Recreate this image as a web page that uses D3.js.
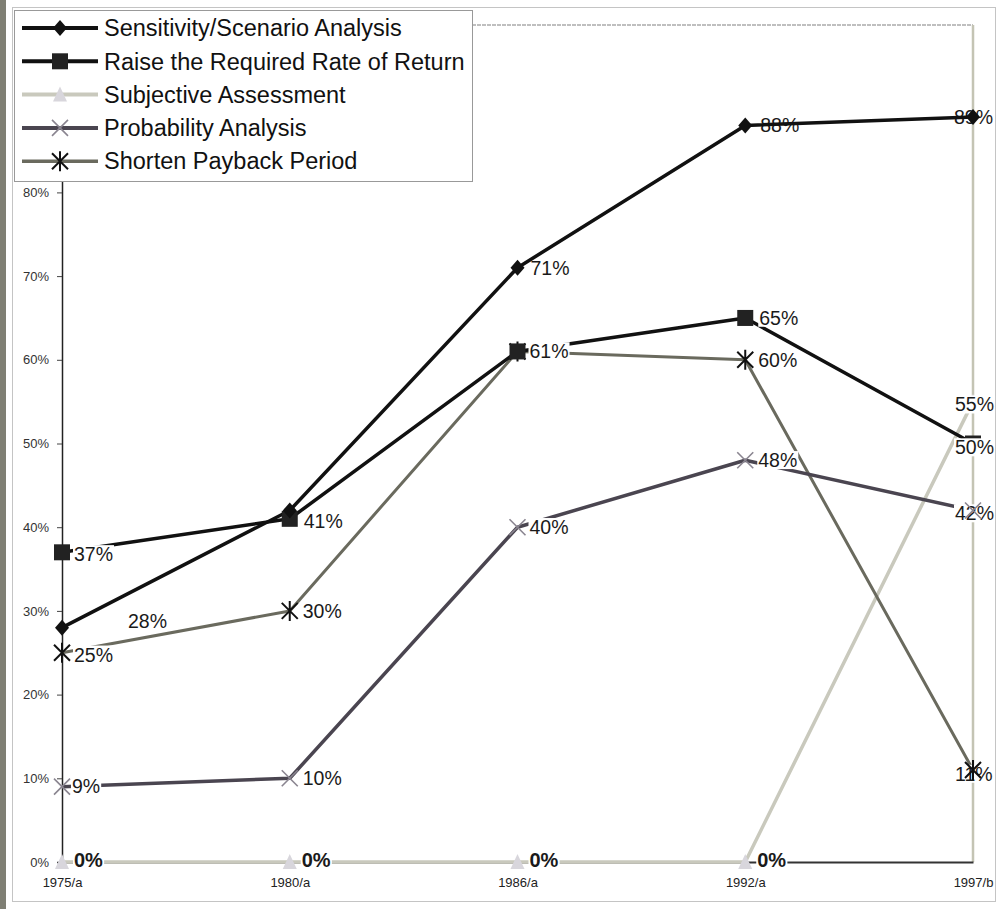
<!DOCTYPE html>
<html><head><meta charset="utf-8">
<script src="https://cdn.jsdelivr.net/npm/d3@7"></script>
<style>body{margin:0;background:#fff;font-family:"Liberation Sans",Arial,sans-serif}</style>
</head><body><svg id="c" width="997" height="909"></svg>
<script>
const categories = ["1975/a","1980/a","1986/a","1992/a","1997/b"];
const seriesNames = ["Sensitivity/Scenario Analysis","Raise the Required Rate of Return","Subjective Assessment","Probability Analysis","Shorten Payback Period"];
const sensitivity = [28, 42, 71, 88, 89];
const raiseRate = [37, 41, 61, 65, 50];
const subjective = [0, 0, 0, 0, 55];
const probability = [9, 10, 40, 48, 42];
const shortenPayback = [25, 30, 61, 60, 11];
const yTicks = [0, 10, 20, 30, 40, 50, 60, 70, 80];

const svg = d3.select("#c");
const FONT = "Liberation Sans, Arial, sans-serif";
// scan stripe + outer frame
svg.append("rect").attr("x",0).attr("y",0).attr("width",6).attr("height",909).attr("fill","#7f7f74");
svg.append("rect").attr("x",12.5).attr("y",7.5).attr("width",983).attr("height",894).attr("fill","none").attr("stroke","#c4c4c4").attr("stroke-width",1);

const x = d3.scalePoint().domain(categories).range([62, 973]);
const y = d3.scaleLinear().domain([0, 100]).range([862, 25]);

// plot border top/right
svg.append("line").attr("x1",62).attr("x2",973).attr("y1",25).attr("y2",25).attr("stroke","#aaa").attr("stroke-width",1.5).attr("stroke-dasharray","4,1");
svg.append("line").attr("x1",973).attr("x2",973).attr("y1",25).attr("y2",862).attr("stroke","#c4c4b4").attr("stroke-width",2.5);

// axes
const yAxis = d3.axisLeft(y).tickValues(yTicks).tickFormat(d => d + "%").tickSize(5).tickPadding(8);
const gy = svg.append("g").attr("transform","translate(62,0)").call(yAxis);
gy.select(".domain").attr("stroke","#222").attr("stroke-width",1.5);
gy.selectAll(".tick line").attr("stroke","#444");
gy.selectAll("text").attr("font-size",13).attr("fill","#333").attr("font-family",FONT);

const xAxis = d3.axisBottom(x).tickSize(0).tickPadding(16);
const gx = svg.append("g").attr("transform","translate(0,862)").call(xAxis);
gx.select(".domain").attr("stroke","#333").attr("stroke-width",2);
gx.selectAll("text").attr("font-size",13).attr("fill","#222").attr("font-family",FONT);

const series = [
  {name: seriesNames[0], values: sensitivity, color:"#111", width:3.5, marker:"diamond", mcolor:"#111"},
  {name: seriesNames[1], values: raiseRate, color:"#111", width:3.5, marker:"square", mcolor:"#222"},
  {name: seriesNames[2], values: subjective, color:"#c9c9bd", width:3.5, marker:"triangle", mcolor:"#d8d6dc"},
  {name: seriesNames[3], values: probability, color:"#4a4550", width:3.5, marker:"x", mcolor:"#8a8590"},
  {name: seriesNames[4], values: shortenPayback, color:"#6a6a5e", width:3, marker:"star", mcolor:"#111"}
];
// label offsets per series per point (dx, dy), null = hidden
const labelOffsets = [
  [[66,-6],null,[13,0],[15,0],[-19,0]],
  [[12,2],[14,2],[12,0],[14,0],[-18,4]],
  [[12,-2],[12,-2],[12,-2],[12,-2],[-18,3]],
  [[10,0],[13,0],[12,0],[13,0],[-18,3]],
  [[12,2],[13,0],null,[13,0],[-18,4]]
];

function marker(g, type, color){
  if(type==="diamond") g.append("path").attr("d","M0,-8L7,0L0,8L-7,0Z").attr("fill",color);
  else if(type==="square") g.append("rect").attr("x",-8).attr("y",-8).attr("width",16).attr("height",16).attr("fill",color);
  else if(type==="triangle") g.append("path").attr("d","M0,-8L7,7L-7,7Z").attr("fill",color);
  else if(type==="x") g.append("path").attr("d","M-8,-8L8,8M-8,8L8,-8").attr("stroke",color).attr("stroke-width",1.6);
  else if(type==="star") g.append("path").attr("d","M-8,-8L8,8M-8,8L8,-8M0,-10L0,10").attr("stroke",color).attr("stroke-width",2);
}

function drawLabel(si, i, withBg){
  const s = series[si], v = s.values[i], o = labelOffsets[si][i];
  if(!o) return;
  const bold = si===2 && i<4;
  const t = svg.append("text").attr("x",x(categories[i])+o[0]).attr("y",y(v)+o[1]).attr("dy","0.35em")
    .attr("font-size", bold ? 20 : 19.5).attr("fill","#1a1a1a").attr("font-family",FONT)
    .attr("font-weight", bold ? "bold" : "normal").text(v + "%");
  if(withBg){
    const b = t.node().getBBox();
    svg.insert("rect", () => t.node()).attr("x",b.x-1).attr("y",b.y+2).attr("width",b.width+2).attr("height",b.height-4).attr("fill","#fff");
  }
}

const line = d3.line().x((d,i)=>x(categories[i])).y(d=>y(d));
// sensitivity labels sit under the lines
sensitivity.forEach((v,i)=>drawLabel(0,i,false));
const order = [2,4,3,1,0];
order.forEach(si=>{
  const s = series[si];
  svg.append("path").datum(s.values).attr("d",line).attr("fill","none").attr("stroke",s.color).attr("stroke-width",s.width).attr("stroke-linejoin","round");
});
[4,3].forEach(si=>series[si].values.forEach((v,i)=>drawLabel(si,i,true)));
order.forEach(si=>{
  const s = series[si];
  s.values.forEach((v,i)=>{
    const g = svg.append("g").attr("transform",`translate(${x(categories[i])},${y(v)})`);
    marker(g, s.marker, s.mcolor);
  });
});
subjective.forEach((v,i)=>drawLabel(2,i,true));
raiseRate.forEach((v,i)=>drawLabel(1,i,true));

// legend
const lg = svg.append("g");
lg.append("rect").attr("x",14.5).attr("y",10.5).attr("width",458).attr("height",171).attr("fill","#fff").attr("stroke","#999");
series.forEach((s,i)=>{
  const yy = 28 + i*33.3;
  lg.append("line").attr("x1",22).attr("x2",98).attr("y1",yy).attr("y2",yy).attr("stroke",s.color).attr("stroke-width",s.width+0.5);
  marker(lg.append("g").attr("transform",`translate(60,${yy})`), s.marker, s.mcolor);
  lg.append("text").attr("x",104).attr("y",yy).attr("dy","0.35em").attr("font-size",23.5).attr("fill","#111").attr("font-family",FONT).text(s.name);
});
</script></body></html>
